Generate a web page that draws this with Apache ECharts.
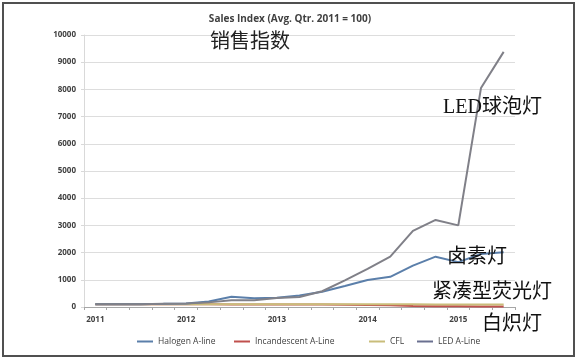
<!DOCTYPE html>
<html>
<head>
<meta charset="utf-8">
<script src="https://cdn.jsdelivr.net/npm/echarts@6/dist/echarts.min.js"></script>
<style>
html,body{margin:0;padding:0;background:#fff;}
#c{width:580px;height:360px;}
</style>
</head>
<body>
<div id="c"></div>
<script>
var categories = ['2011','2011 Q2','2011 Q3','2011 Q4',
                  '2012','2012 Q2','2012 Q3','2012 Q4',
                  '2013','2013 Q2','2013 Q3','2013 Q4',
                  '2014','2014 Q2','2014 Q3','2014 Q4',
                  '2015','2015 Q2','2015 Q3'];
var halogen      = [100, 100, 105, 115, 130, 200, 380, 320, 340, 420, 560, 770, 990, 1110, 1520, 1850, 1650, 1950, 2010];
var incandescent = [100, 100, 100, 100, 100, 100, 95, 95, 95, 90, 90, 85, 75, 60, 40, 30, 25, 20, 20];
var cfl          = [100, 100, 100, 100, 100, 100, 100, 100, 100, 100, 100, 100, 100, 100, 100, 95, 95, 95, 95];
var led          = [100, 100, 105, 115, 125, 170, 250, 250, 330, 370, 580, 980, 1400, 1850, 2800, 3200, 3000, 8050, 9380];
var seriesNames  = ['Halogen A-line', 'Incandescent A-Line', 'CFL', 'LED A-Line'];
var yTicks = {min: 0, max: 10000, interval: 1000};

var chart = echarts.init(document.getElementById('c'));
var latin = '"Open Sans", "Liberation Sans", sans-serif';
var cjkSans = '"Noto Sans CJK SC", sans-serif';
var cjkSerif = '"Liberation Serif", "Noto Sans CJK SC", serif';
var legendLefts = [132, 229, 364, 412];
function mkLegend(i) {
  return {
    bottom: 9, left: legendLefts[i],
    icon: 'rect', itemWidth: 16, itemHeight: 2, itemGap: 0,
    textStyle: {fontFamily: latin, fontSize: 8.5, color: '#404040'},
    data: [seriesNames[i]]
  };
}
chart.setOption({
  animation: false,
  backgroundColor: '#fff',
  title: {
    text: 'Sales Index (Avg. Qtr. 2011 = 100)',
    left: 'center', top: 9,
    textStyle: {fontFamily: latin, fontSize: 10, fontWeight: 'bold', color: '#404040'}
  },
  grid: {left: 84, right: 65, top: 35, bottom: 53},
  legend: [mkLegend(0), mkLegend(1), mkLegend(2), mkLegend(3)],
  xAxis: {
    type: 'category',
    data: categories,
    boundaryGap: true,
    axisLine: {lineStyle: {color: '#A6A6A6'}},
    axisTick: {show: true, interval: 0, length: 3, lineStyle: {color: '#A6A6A6'}},
    axisLabel: {interval: 3, margin: 9, fontFamily: latin, fontSize: 8, fontWeight: 'bold', color: '#404040'},
    splitLine: {show: false}
  },
  yAxis: {
    type: 'value',
    min: yTicks.min, max: yTicks.max, interval: yTicks.interval,
    axisLine: {show: true, lineStyle: {color: '#D9D9D9'}},
    axisTick: {show: true, length: 3, lineStyle: {color: '#D9D9D9'}},
    axisLabel: {margin: 8, fontFamily: latin, fontSize: 8, fontWeight: 'bold', color: '#404040',
                formatter: function (v) { return String(v); }},
    splitLine: {lineStyle: {color: '#DDDDDD'}}
  },
  series: [
    {name: seriesNames[0], type: 'line', data: halogen, symbol: 'none', z: 4,
     lineStyle: {width: 2, color: '#5B7FAA'}, itemStyle: {color: '#5B7FAA'}},
    {name: seriesNames[1], type: 'line', data: incandescent, symbol: 'none', z: 2,
     lineStyle: {width: 2, color: '#C0504D'}, itemStyle: {color: '#C0504D'}},
    {name: seriesNames[2], type: 'line', data: cfl, symbol: 'none', z: 3,
     lineStyle: {width: 2, color: '#C9BD7A'}, itemStyle: {color: '#C9BD7A'}},
    {name: seriesNames[3], type: 'line', data: led, symbol: 'none', z: 5,
     lineStyle: {width: 2, color: '#808088'}, itemStyle: {color: '#6A7090'}}
  ],
  graphic: [
    {type: 'rect', shape: {x: 3, y: 3, width: 571, height: 353},
     style: {fill: 'none', stroke: '#505050', lineWidth: 2}, silent: true},
    {type: 'text', left: 210, top: 30, z: 100,
     style: {text: '销售指数', font: '20px ' + cjkSans, fill: '#222'}},
    {type: 'text', left: 443, top: 98, z: 100,
     style: {text: 'LED球泡灯', font: '20px ' + cjkSerif, fill: '#111'}},
    {type: 'text', left: 447, top: 248, z: 100,
     style: {text: '卤素灯', font: '20px ' + cjkSerif, fill: '#111'}},
    {type: 'text', left: 432, top: 283, z: 100,
     style: {text: '紧凑型荧光灯', font: '20px ' + cjkSerif, fill: '#111'}},
    {type: 'text', left: 482, top: 315, z: 100,
     style: {text: '白炽灯', font: '20px ' + cjkSerif, fill: '#111'}}
  ]
});
</script>
</body>
</html>
